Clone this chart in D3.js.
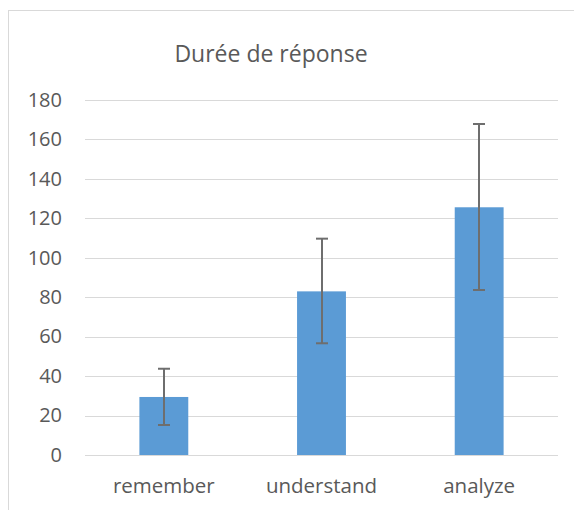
<!DOCTYPE html>
<html>
<head>
<meta charset="utf-8">
<script src="https://cdn.jsdelivr.net/npm/d3@7"></script>
<style>
  html, body { margin: 0; padding: 0; background: #fff; }
  svg { display: block; }
  text { font-family: "Open Sans", sans-serif; fill: #595959; }
</style>
</head>
<body>
<div id="chart"></div>
<script>
// Response time per task category, with error ranges
const categories = ["remember", "understand", "analyze"];
const durations = [29.4, 82.9, 125.5];
const errLow = [15.2, 56.6, 83.6];
const errHigh = [43.7, 109.6, 167.7];
const yTicks = [0, 20, 40, 60, 80, 100, 120, 140, 160, 180];
const title = "Durée de réponse";

const W = 574, H = 510;
const plot = { left: 85, right: 558, top: 99.7, bottom: 455 };

const svg = d3.select("#chart").append("svg")
  .attr("width", W).attr("height", H);

// chart frame (extends past the right and bottom edges of the view)
svg.append("rect")
  .attr("x", 8.5).attr("y", 10.5)
  .attr("width", 700).attr("height", 700)
  .attr("fill", "#fff").attr("stroke", "#d9d9d9").attr("stroke-width", 1);

const x = d3.scaleBand()
  .domain(categories)
  .range([plot.left, plot.right])
  .paddingInner(0.69)
  .paddingOuter(0.345);

const y = d3.scaleLinear()
  .domain([0, 180])
  .range([plot.bottom, plot.top]);

// horizontal gridlines
svg.append("g")
  .selectAll("line")
  .data(yTicks)
  .join("line")
  .attr("x1", plot.left).attr("x2", plot.right)
  .attr("y1", d => Math.round(y(d)) + 0.5)
  .attr("y2", d => Math.round(y(d)) + 0.5)
  .attr("stroke", "#d9d9d9").attr("stroke-width", 1);

// y axis labels
const yAxis = d3.axisLeft(y).tickValues(yTicks).tickSize(0).tickPadding(0);
const gy = svg.append("g")
  .attr("transform", `translate(${62},0)`)
  .call(yAxis);
gy.select(".domain").remove();
gy.selectAll("text")
  .attr("font-size", 20)
  .attr("font-family", "Open Sans, sans-serif")
  .attr("fill", "#595959");

// bars
svg.append("g")
  .selectAll("rect")
  .data(categories)
  .join("rect")
  .attr("x", d => x(d))
  .attr("width", x.bandwidth())
  .attr("y", (d, i) => y(durations[i]))
  .attr("height", (d, i) => y(0) - y(durations[i]))
  .attr("fill", "#5b9bd5");

// error bars
const eb = svg.append("g").attr("stroke", "#6e6e6e").attr("stroke-width", 2);
categories.forEach((c, i) => {
  const cx = Math.round(x(c) + x.bandwidth() / 2);
  eb.append("line")
    .attr("x1", cx).attr("x2", cx)
    .attr("y1", y(errLow[i])).attr("y2", y(errHigh[i]));
  [errLow[i], errHigh[i]].forEach(v => {
    eb.append("line")
      .attr("x1", cx - 6).attr("x2", cx + 6)
      .attr("y1", y(v)).attr("y2", y(v));
  });
});

// category labels
const xAxis = d3.axisBottom(x).tickSize(0).tickPadding(0);
const gx = svg.append("g")
  .attr("transform", `translate(0,${478})`)
  .call(xAxis);
gx.select(".domain").remove();
gx.selectAll("text")
  .attr("font-size", 20.5)
  .attr("font-family", "Open Sans, sans-serif")
  .attr("fill", "#595959");

// title
svg.append("text")
  .attr("x", 271).attr("y", 62)
  .attr("text-anchor", "middle")
  .attr("font-size", 23)
  .text(title);
</script>
</body>
</html>
